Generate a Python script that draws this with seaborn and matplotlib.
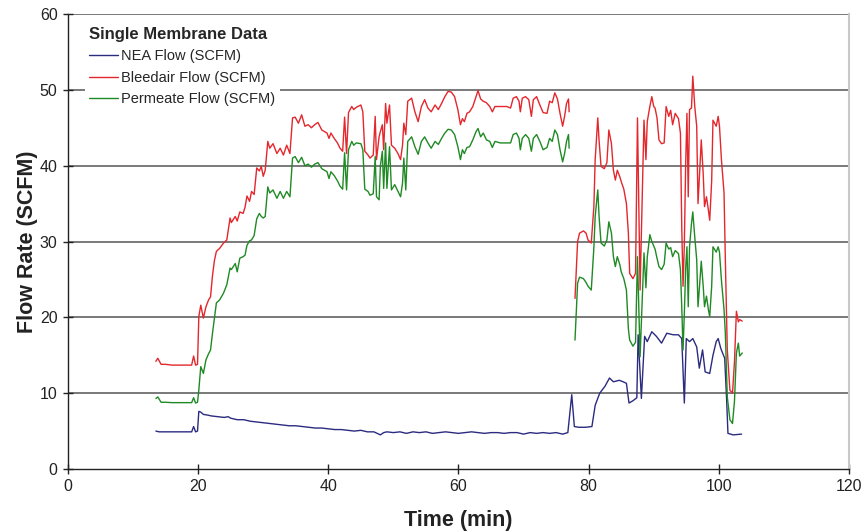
import numpy as np
import pandas as pd
import matplotlib
matplotlib.use("Agg")
import matplotlib.pyplot as plt
import seaborn as sns

# ---------------- data ----------------
nea_time = [13.5, 14, 15, 16, 17, 18, 19.0, 19.3, 19.6, 19.9, 20.1, 20.4, 20.8, 21.5, 22, 23, 24, 24.6,
            25, 26, 27, 28, 29, 30, 31, 32, 33, 34, 35, 36, 37, 38, 39, 40, 41, 42, 43, 44, 45, 46, 47,
            48, 48.5, 49, 50, 51, 52, 53, 54, 55, 56, 57, 58, 59, 60, 61, 62, 63, 64, 65, 66, 67, 68,
            69, 70, 71, 72, 73, 74, 75, 76, 76.8, 77.4, 77.8, 78.5, 79.5, 80.5, 81.0, 81.7, 82.5, 83.2,
            83.8, 84.7, 85.3, 85.8, 86.2, 86.8, 87.4, 87.6, 88.1, 88.6, 89.0, 89.7, 90.4, 91.2, 92.0,
            93.0, 93.8, 94.3, 94.7, 95.0, 95.5, 96.0, 96.6, 97.0, 97.5, 97.9, 98.6, 99.1, 99.6, 99.9,
            100.3, 100.9, 101.2, 101.4, 102.2, 103.5]
nea_flow = [5.0, 4.9, 4.9, 4.9, 4.9, 4.9, 4.9, 5.6, 4.9, 5.0, 7.6, 7.5, 7.2, 7.1, 7.0, 6.9, 6.8, 6.9,
            6.7, 6.5, 6.5, 6.3, 6.2, 6.1, 6.0, 5.9, 5.8, 5.7, 5.7, 5.6, 5.5, 5.4, 5.4, 5.3, 5.2, 5.2, 5.1,
            5.0, 5.1, 4.9, 4.9, 4.5, 4.8, 4.9, 4.8, 4.9, 4.7, 4.9, 4.8, 4.9, 4.7, 4.8, 4.9, 4.8, 4.7, 4.8,
            4.9, 4.8, 4.7, 4.8, 4.8, 4.7, 4.8, 4.8, 4.6, 4.8, 4.7, 4.8, 4.7, 4.8, 4.6, 4.8, 9.8, 5.6, 5.5,
            5.5, 5.6, 8.4, 10.0, 10.9, 12.0, 11.5, 11.7, 11.5, 11.3, 8.7, 9.0, 9.4, 17.7, 9.3, 17.5, 16.8,
            18.1, 17.5, 16.6, 17.9, 17.7, 17.7, 17.2, 8.7, 17.2, 16.8, 17.2, 16.1, 13.3, 15.7, 12.8, 12.6,
            15.0, 16.8, 17.2, 15.9, 14.6, 9.1, 4.7, 4.5, 4.6]

# first run (before the gap near 77 min)
run1_time = [13.5, 13.8, 14.3, 15, 16, 17, 18, 19.0, 19.3, 19.6, 19.9, 20.1, 20.4, 20.8, 21.2, 21.6,
             21.9, 22.2, 22.5, 22.8, 23.3, 23.9, 24.4, 24.9, 25.1, 25.7, 26.0, 26.4, 26.9, 27.2, 27.5,
             27.9, 28.2, 28.6, 29.0, 29.4, 29.7, 30.0, 30.3, 30.7, 31.0, 31.5, 32.1, 32.6, 33.1, 33.6,
             34.1, 34.5, 34.9, 35.4, 35.9, 36.4, 36.9, 37.4, 37.9, 38.4, 39.0, 39.8, 40.1, 40.4, 40.9,
             41.4, 41.8, 42.2, 42.5, 42.8, 43.1, 43.6, 43.9, 44.3, 45.0, 45.3, 45.6, 46.1, 46.4, 46.9,
             47.2, 47.4, 47.8, 48.0, 48.3, 48.5, 48.8, 49.0, 49.4, 49.7, 50.2, 50.7, 51.1, 51.4, 51.6,
             51.9, 52.2, 52.8, 53.3, 53.8, 54.3, 54.8, 55.3, 55.8, 56.4, 56.9, 57.4, 57.9, 58.4, 58.9,
             59.4, 59.9, 60.3, 60.6, 60.9, 61.3, 61.7, 62.2, 62.7, 63.0, 63.4, 63.8, 64.3, 64.8, 65.2,
             65.6, 66.4, 67.4, 68.0, 68.4, 68.9, 69.3, 69.5, 69.8, 70.3, 70.8, 71.2, 71.5, 72.0, 72.5,
             73.0, 73.6, 74.0, 74.4, 74.8, 75.2, 75.6, 76.0, 76.3, 76.6, 76.9, 77.0]
bleed_run1 = [14.2, 14.6, 13.8, 13.8, 13.7, 13.7, 13.7, 13.7, 14.9, 13.7, 13.8, 20.1, 21.6, 19.9, 21.4,
              22.3, 22.7, 25.5, 27.5, 28.7, 29.1, 29.8, 30.2, 33.1, 32.5, 33.3, 32.7, 33.9, 33.7, 34.5,
              36.0, 35.3, 36.6, 36.2, 39.7, 39.3, 39.9, 38.6, 39.4, 43.2, 42.3, 42.9, 41.6, 42.3, 41.4,
              42.7, 41.6, 46.3, 46.4, 45.6, 46.7, 45.2, 45.4, 45.0, 45.4, 45.7, 44.7, 44.3, 43.6, 44.3,
              43.6, 43.0, 42.3, 41.9, 46.4, 41.6, 47.0, 47.8, 47.4, 47.7, 48.0, 47.1, 41.9, 41.4, 41.0,
              41.4, 46.5, 40.8, 43.8, 44.5, 45.4, 42.1, 48.2, 45.6, 48.0, 42.7, 42.3, 41.6, 40.8, 42.7,
              45.6, 44.1, 48.5, 48.9, 47.1, 45.8, 47.8, 48.7, 47.6, 47.1, 48.0, 47.4, 48.2, 49.1, 49.8,
              49.7, 49.1, 47.4, 45.4, 46.2, 45.8, 46.9, 47.1, 47.8, 49.1, 49.9, 48.8, 48.5, 48.3, 47.8,
              47.1, 47.8, 47.8, 47.8, 47.6, 48.9, 49.1, 48.5, 47.1, 48.9, 49.1, 48.7, 46.5, 48.7, 49.1,
              48.0, 47.0, 46.9, 48.5, 48.3, 49.6, 48.8, 46.9, 45.2, 46.5, 48.2, 48.8, 47.1]
perm_run1 = [9.3, 9.5, 8.8, 8.8, 8.75, 8.75, 8.75, 8.75, 9.4, 8.7, 8.8, 10.4, 13.5, 12.6, 14.4, 15.2,
             15.7, 17.9, 19.9, 21.9, 22.3, 23.2, 24.3, 26.5, 26.3, 27.1, 26.0, 27.8, 28.0, 28.2, 29.5,
             30.1, 30.2, 30.8, 33.0, 33.7, 33.3, 33.1, 33.3, 37.2, 36.4, 36.8, 35.7, 36.6, 35.7, 36.6,
             35.9, 41.0, 41.2, 40.4, 41.1, 40.0, 40.2, 39.8, 40.2, 40.4, 39.6, 39.2, 38.3, 39.2, 38.7,
             38.0, 37.3, 36.9, 41.7, 36.8, 42.1, 43.2, 42.7, 43.0, 42.9, 42.1, 36.9, 36.6, 36.1, 36.3,
             41.2, 35.9, 35.5, 40.0, 41.9, 37.0, 43.0, 37.0, 42.5, 36.8, 37.5, 36.6, 35.9, 37.7, 41.0,
             36.8, 43.2, 43.8, 42.5, 41.5, 43.2, 43.8, 43.0, 42.3, 43.2, 42.8, 43.6, 44.3, 44.8, 44.7,
             44.1, 42.5, 40.8, 42.1, 41.6, 42.4, 42.5, 43.4, 44.5, 44.9, 43.8, 44.3, 43.4, 43.2, 42.4,
             43.2, 43.0, 43.0, 43.0, 44.1, 44.3, 43.6, 42.1, 43.6, 44.1, 43.6, 41.9, 43.6, 44.1, 43.2,
             42.1, 42.4, 43.6, 43.2, 44.7, 44.1, 42.1, 40.5, 41.6, 43.2, 44.1, 42.3]

# second run (after the gap)
run2_time = [77.9, 78.3, 78.6, 79.2, 79.6, 79.9, 80.4, 80.8, 81.0, 81.4, 81.6, 81.9, 82.4, 82.8, 83.1,
             83.5, 83.8, 84.1, 84.4, 84.8, 85.0, 85.4, 85.8, 86.1, 86.3, 86.8, 87.2, 87.5, 87.9, 88.5,
             88.8, 89.0, 89.4, 89.7, 90.0, 90.2, 90.5, 90.8, 91.2, 91.6, 91.9, 92.3, 92.6, 92.9, 93.3,
             93.8, 94.1, 94.3, 94.5, 94.7, 94.9, 95.1, 95.3, 95.5, 95.8, 96.0, 96.3, 96.6, 96.8, 97.1,
             97.3, 97.6, 97.8, 98.1, 98.4, 98.6, 98.9, 99.1, 99.6, 99.9, 100.1, 100.4, 100.8, 101.0,
             101.3, 101.7, 102.1, 102.4, 102.7, 103.0, 103.2, 103.6]
bleed_run2 = [22.5, 30.0, 31.1, 31.4, 31.1, 30.2, 29.8, 34.6, 40.8, 46.3, 43.3, 39.9, 39.6, 40.4, 44.7,
              42.9, 39.4, 38.1, 39.4, 38.5, 37.9, 36.9, 35.0, 31.1, 25.8, 25.1, 25.8, 46.3, 23.6, 46.0,
              40.8, 45.8, 47.8, 49.1, 47.8, 47.6, 46.3, 43.4, 42.9, 43.0, 47.8, 46.5, 47.3, 45.4, 46.9,
              46.2, 44.3, 32.0, 24.1, 29.6, 40.0, 46.9, 35.9, 47.4, 47.6, 51.8, 47.8, 45.2, 35.0, 39.9,
              43.4, 38.9, 34.6, 35.9, 34.1, 32.8, 38.0, 46.0, 45.2, 46.5, 45.2, 40.8, 36.4, 27.6, 15.7,
              10.4, 10.0, 14.1, 20.8, 19.4, 19.7, 19.5]
perm_run2 = [17.0, 24.5, 25.3, 25.1, 24.6, 24.1, 23.6, 29.2, 33.3, 36.8, 33.3, 29.8, 29.4, 30.2, 32.6,
             31.1, 28.0, 26.7, 28.0, 26.9, 26.0, 25.1, 23.6, 18.5, 17.0, 16.2, 16.7, 28.0, 14.8, 28.5,
             23.9, 27.9, 30.9, 30.0, 29.4, 29.0, 27.8, 26.7, 26.3, 27.0, 29.8, 29.0, 29.2, 28.0, 28.8,
             28.4, 26.3, 21.4, 15.7, 20.5, 26.4, 29.3, 21.4, 29.3, 32.4, 33.9, 30.6, 27.6, 21.4, 24.9,
             27.4, 24.1, 21.4, 22.8, 21.0, 20.1, 24.1, 29.3, 28.6, 29.3, 28.6, 24.9, 21.0, 17.9, 9.5,
             6.5, 6.0, 8.9, 15.3, 16.6, 14.9, 15.3]

series_labels = ["NEA Flow (SCFM)", "Bleedair Flow (SCFM)", "Permeate Flow (SCFM)"]
legend_title = "Single Membrane Data"
x_ticks = [0, 20, 40, 60, 80, 100, 120]
y_ticks = [0, 10, 20, 30, 40, 50, 60]

# ---------------- styling ----------------
sns.set_style("white")
plt.rcParams["font.family"] = ["Liberation Sans", "DejaVu Sans"]

NAVY = "#2b2b80"
RED = "#e3272d"
GREEN = "#1f8a24"

fig = plt.figure(figsize=(8.62, 5.31), dpi=100)
ax = fig.add_axes([68 / 862, 1 - 469 / 531, (849 - 68) / 862, (469 - 14) / 531])

nea_df = pd.DataFrame({"t": nea_time, "v": nea_flow})
r1 = pd.DataFrame({"t": run1_time, "bleed": bleed_run1, "perm": perm_run1})
r2 = pd.DataFrame({"t": run2_time, "bleed": bleed_run2, "perm": perm_run2})

lw = 1.0
sns.lineplot(data=nea_df, x="t", y="v", ax=ax, color=NAVY, lw=lw, label=series_labels[0],
             estimator=None, sort=False)
sns.lineplot(data=r1, x="t", y="bleed", ax=ax, color=RED, lw=lw, label=series_labels[1],
             estimator=None, sort=False)
sns.lineplot(data=r2, x="t", y="bleed", ax=ax, color=RED, lw=lw, label="_nolegend_",
             estimator=None, sort=False)
sns.lineplot(data=r1, x="t", y="perm", ax=ax, color=GREEN, lw=lw, label=series_labels[2],
             estimator=None, sort=False)
sns.lineplot(data=r2, x="t", y="perm", ax=ax, color=GREEN, lw=lw, label="_nolegend_",
             estimator=None, sort=False)

ax.set_xlim(0, 120)
ax.set_ylim(0, 60)
ax.set_xticks(x_ticks)
ax.set_yticks(y_ticks)
ax.set_xticklabels([str(v) for v in x_ticks])
ax.set_yticklabels([str(v) for v in y_ticks])

# horizontal grid
for yv in y_ticks[1:]:
    ax.axhline(yv, color="#555555", lw=1.1, zorder=0.5)

for side in ["left", "bottom"]:
    ax.spines[side].set_color("#222222")
    ax.spines[side].set_linewidth(1.0)
ax.spines["top"].set_visible(False)
ax.spines["right"].set_color("#c8c8c8")
ax.spines["right"].set_linewidth(1.5)

ax.tick_params(axis="both", direction="inout", length=7, width=1.0, color="#222222",
               labelsize=11.5, labelcolor="#222222", pad=4, bottom=True, left=True)

ax.set_xlabel("Time (min)", fontsize=15.5, fontweight="bold", color="#222222", labelpad=11)
ax.set_ylabel("Flow Rate (SCFM)", fontsize=15.5, fontweight="bold", color="#222222", labelpad=1)

leg = ax.legend(title=legend_title, loc="upper left", bbox_to_anchor=(0.012, 0.997),
                frameon=True, fancybox=False, framealpha=1.0, edgecolor="white",
                fontsize=10.5, title_fontproperties={"weight": "bold", "size": 12},
                alignment="left", handlelength=2.0, handletextpad=0.2, labelspacing=0.5,
                borderpad=0.3)
leg.get_frame().set_linewidth(0)

fig.savefig("out.png", dpi=100)
